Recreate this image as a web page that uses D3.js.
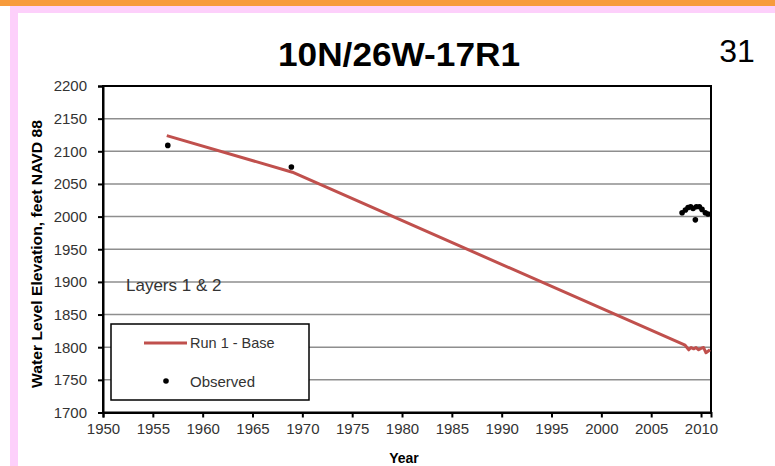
<!DOCTYPE html>
<html>
<head>
<meta charset="utf-8">
<script src="https://cdn.jsdelivr.net/npm/d3@7/dist/d3.min.js"></script>
<style>
  html, body { margin: 0; padding: 0; background: #fff; }
  svg { display: block; }
  text { font-family: "Liberation Sans", Arial, sans-serif; }
</style>
</head>
<body>
<svg id="chart" width="775" height="466"></svg>
<script>
// ---- data ----
const titleText = "10N/26W-17R1";
const pageNumber = "31";
const xTicks = [1950, 1955, 1960, 1965, 1970, 1975, 1980, 1985, 1990, 1995, 2000, 2005, 2010];
const yTicks = [1700, 1750, 1800, 1850, 1900, 1950, 2000, 2050, 2100, 2150, 2200];
const runYears  = [1956.4, 1969.0, 2008.4, 2008.77, 2009.0, 2009.26, 2009.5, 2009.76, 2010.03, 2010.26, 2010.5, 2010.9];
const runValues = [2124,   2068,   1803,   1796,    1799.5,  1797.5,  1799.5,  1796,    1798.5,  1799.5,  1791.5,  1796];
const obsYears  = [1956.5, 1968.9, 2008.1, 2008.43, 2008.7, 2008.96, 2009.2, 2009.43, 2009.53, 2009.83, 2010.1, 2010.43, 2010.7];
const obsValues = [2109,   2076,   2006,   2010,    2014,   2015,    2012.5, 1995,    2015,    2015,    2011,   2006,    2004];
const seriesNames = ["Run 1 - Base", "Observed"];

// ---- layout ----
const svg = d3.select("#chart");
const L = 103, R = 711, T = 86, B = 412.5;
const x = d3.scaleLinear().domain([1950, 2011]).range([L, R]);
const y = d3.scaleLinear().domain([1700, 2200]).range([B, T]);
const red = "#C0504D";

// page decoration
svg.append("rect").attr("x", 0).attr("y", 0).attr("width", 775).attr("height", 6).attr("fill", "#F79B3C");
svg.append("rect").attr("x", 10).attr("y", 6).attr("width", 765).attr("height", 7).attr("fill", "#FDD0FB");
svg.append("rect").attr("x", 10).attr("y", 6).attr("width", 8).attr("height", 460).attr("fill", "#FDD0FB");

// title & page number
svg.append("text").attr("x", 399).attr("y", 66).attr("text-anchor", "middle")
  .attr("font-size", 33).attr("font-weight", "bold").attr("fill", "#000")
  .attr("textLength", 242).attr("lengthAdjust", "spacingAndGlyphs").text(titleText);
svg.append("text").attr("x", 737).attr("y", 62).attr("text-anchor", "middle")
  .attr("font-size", 32).attr("fill", "#000").text(pageNumber);

// gridlines
svg.append("g").selectAll("line").data(yTicks.filter(v => v > 1700 && v < 2200)).join("line")
  .attr("x1", L).attr("x2", R).attr("y1", d => y(d)).attr("y2", d => y(d))
  .attr("stroke", "#8e8e8e").attr("stroke-width", 1.5);

// frame
svg.append("rect").attr("x", L).attr("y", T).attr("width", R - L).attr("height", B - T)
  .attr("fill", "none").attr("stroke", "#000").attr("stroke-width", 2);

// axes
const xAxis = d3.axisBottom(x).tickValues(xTicks).tickFormat(d3.format("d")).tickSize(5).tickPadding(6);
const gx = svg.append("g").attr("transform", `translate(0,${B})`).call(xAxis);
gx.select(".domain").attr("stroke-width", 2);
gx.selectAll(".tick line").attr("stroke-width", 2);
gx.selectAll("text").attr("font-size", 15).attr("fill", "#333").attr("font-family", "Liberation Sans, Arial, sans-serif");

const yAxis = d3.axisLeft(y).tickValues(yTicks).tickFormat(d3.format("d")).tickSize(5).tickPadding(11);
const gy = svg.append("g").attr("transform", `translate(${L},0)`).call(yAxis);
gy.select(".domain").attr("stroke-width", 2);
gy.selectAll(".tick line").attr("stroke-width", 2);
gy.selectAll("text").attr("font-size", 15).attr("fill", "#333").attr("font-family", "Liberation Sans, Arial, sans-serif");

// axis titles
svg.append("text").attr("transform", "translate(42,254) rotate(-90)").attr("text-anchor", "middle")
  .attr("font-size", 14).attr("font-weight", "bold").attr("fill", "#000")
  .attr("textLength", 268).attr("lengthAdjust", "spacingAndGlyphs")
  .text("Water Level Elevation, feet NAVD 88");
svg.append("text").attr("x", 404).attr("y", 463).attr("text-anchor", "middle")
  .attr("font-size", 14).attr("font-weight", "bold").attr("fill", "#000").text("Year");

// annotation
svg.append("text").attr("x", 126).attr("y", 291).attr("font-size", 17).attr("fill", "#333").text("Layers 1 & 2");

// run line
const runData = runYears.map((d, i) => [d, runValues[i]]);
svg.append("path").datum(runData)
  .attr("d", d3.line().x(d => x(d[0])).y(d => y(d[1])))
  .attr("fill", "none").attr("stroke", red).attr("stroke-width", 3).attr("stroke-linejoin", "round");

// observed points
svg.append("g").selectAll("circle").data(obsYears.map((d, i) => [d, obsValues[i]])).join("circle")
  .attr("cx", d => x(d[0])).attr("cy", d => y(d[1])).attr("r", 2.8).attr("fill", "#000");

// legend
const lg = svg.append("g");
lg.append("rect").attr("x", 111).attr("y", 324).attr("width", 198).attr("height", 76)
  .attr("fill", "#fff").attr("stroke", "#000").attr("stroke-width", 1.5);
lg.append("line").attr("x1", 144).attr("x2", 187).attr("y1", 343).attr("y2", 343)
  .attr("stroke", red).attr("stroke-width", 3);
lg.append("circle").attr("cx", 166).attr("cy", 381).attr("r", 2.8).attr("fill", "#000");
lg.append("text").attr("x", 190).attr("y", 348).attr("font-size", 14.5).attr("fill", "#333").text(seriesNames[0]);
lg.append("text").attr("x", 190).attr("y", 386.5).attr("font-size", 15).attr("fill", "#333").text(seriesNames[1]);
</script>
</body>
</html>
